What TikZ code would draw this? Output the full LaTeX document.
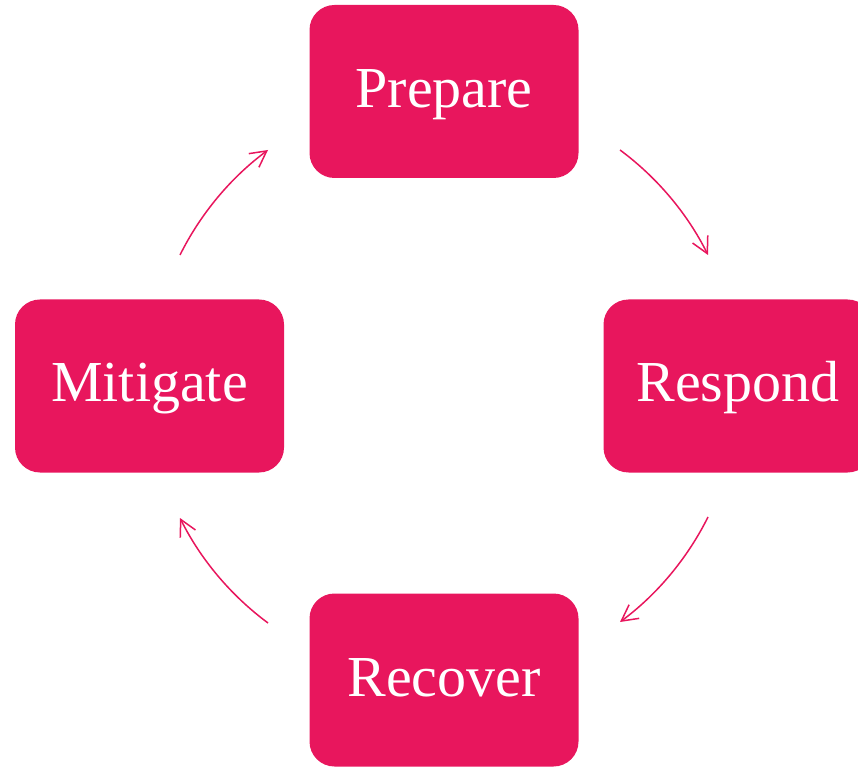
\documentclass[tikz,border=0pt]{standalone}
\usepackage{fontspec}
\setmainfont{Liberation Serif}
\usetikzlibrary{arrows.meta}
\definecolor{pinkred}{RGB}{232,22,93}
\begin{document}
\begin{tikzpicture}[x=1pt,y=1pt,
  stagebox/.style={fill=pinkred, draw=none, rounded corners=25pt,
    minimum width=269pt, minimum height=173pt, inner sep=0pt,
    text=white, font=\fontsize{58}{60}\selectfont,
    text height=43.5pt, text depth=11.5pt},
  cyc/.style={draw=pinkred, line width=1.5pt,
    -{Straight Barb[length=16pt,width=17pt,line width=1.5pt]},
    bend left=13.5, looseness=0.86}]
\useasboundingbox (0,0) rectangle (858,766);
\clip (0,0) rectangle (858,766);
\node[stagebox] (prepare)  at (444,674.5) {Prepare};
\node[stagebox] (respond)  at (738,380)   {Respond};
\node[stagebox] (mitigate) at (149.5,380) {Mitigate};
\node[stagebox] (recover)  at (444,86)    {Recover};
\coordinate (a1) at (620,616); \coordinate (b1) at (708,511);
\coordinate (a2) at (708,249); \coordinate (b2) at (620,144);
\coordinate (a3) at (268,143); \coordinate (b3) at (180,248);
\coordinate (a4) at (180,511); \coordinate (b4) at (268,616);
\draw[cyc] (a1) to (b1);
\draw[cyc] (a2) to (b2);
\draw[cyc] (a3) to (b3);
\draw[cyc] (a4) to (b4);
\end{tikzpicture}
\end{document}
